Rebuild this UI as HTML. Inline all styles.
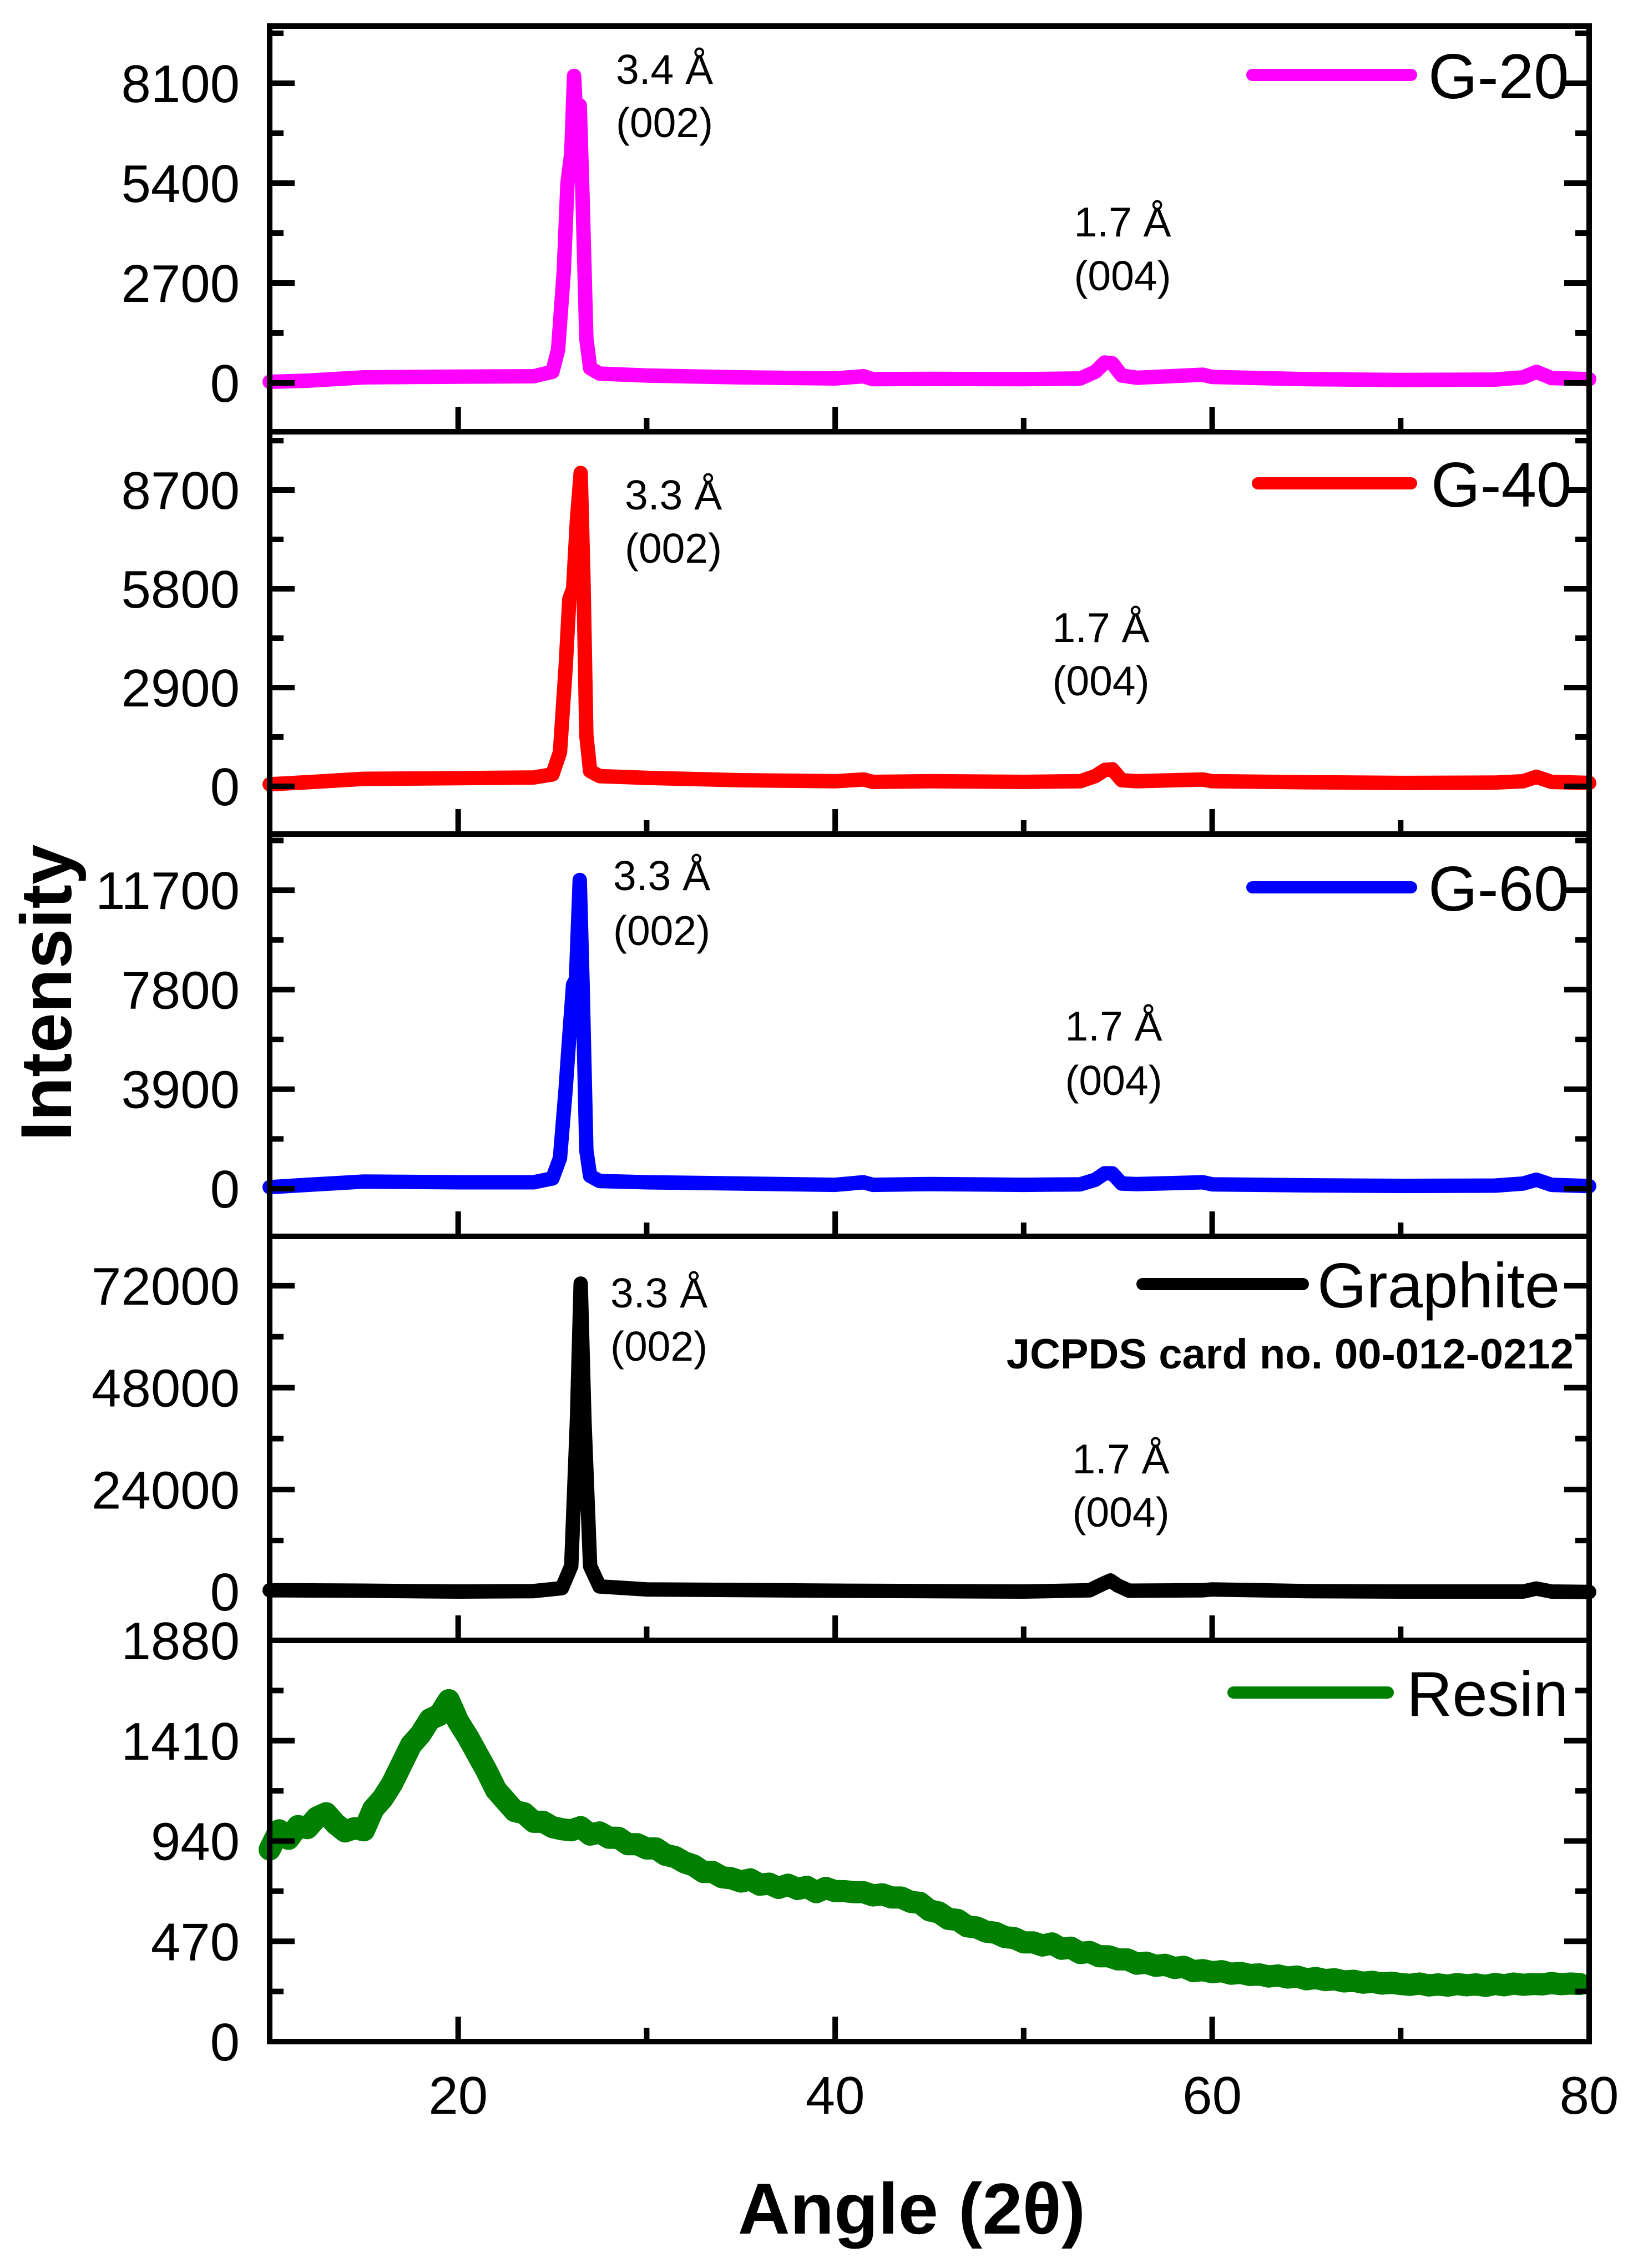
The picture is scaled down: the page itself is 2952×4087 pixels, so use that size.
<!DOCTYPE html>
<html><head><meta charset="utf-8"><style>
html,body{margin:0;padding:0;background:#fff;}
svg{display:block;font-family:"Liberation Sans",sans-serif;}
</style></head><body>
<svg id="chart" width="2952" height="4087" viewBox="0 0 2952 4087" xmlns="http://www.w3.org/2000/svg">
<g id="plots"></g>
<text x="0" y="0" transform="translate(128,1789) rotate(-90)" text-anchor="middle" font-size="130" font-weight="bold">Intensity</text>
<text x="1643" y="4025" text-anchor="middle" font-size="130" font-weight="bold">Angle (2θ)</text>
</svg>
<script>
const xTicks=[20,40,60,80];
const g20x=[10,12,15,20,24,25.0,25.3,25.6,25.8,26.0,26.15,26.3,26.45,26.6,26.8,27.0,27.5,30,35,40,41.5,42,45,50,53,53.8,54.3,54.7,55.2,56,59.5,60,65,70,75,76.5,77.2,78,80];
const g20y=[30,60,150,170,180,300,900,3000,5400,6200,8300,6800,7500,5000,1200,400,250,200,150,120,180,100,110,100,120,300,550,530,200,140,220,160,100,80,90,150,300,130,100];
const g40x=[10,12,15,20,24,25.0,25.4,25.7,25.9,26.1,26.3,26.5,26.65,26.8,27.0,27.5,30,35,40,41.5,42,45,50,53,53.8,54.3,54.7,55.2,56,59.5,60,65,70,75,76.5,77.2,78,80];
const g40y=[60,120,220,240,260,350,1000,3500,5500,5800,7800,9200,6000,1500,450,300,250,180,150,200,130,150,130,150,300,480,500,180,150,200,150,120,100,110,150,280,130,100];
const g60x=[10,12,15,20,24,25.0,25.4,25.7,25.9,26.1,26.25,26.45,26.6,26.8,27.0,27.5,30,35,40,41.5,42,45,50,53,53.8,54.3,54.7,55.2,56,59.5,60,65,70,75,76.5,77.2,78,80];
const g60y=[60,150,280,250,250,400,1200,3900,6000,8000,8200,12100,8000,1500,500,300,250,200,150,250,150,180,150,170,350,600,600,200,180,250,170,130,110,120,200,350,150,100];
const grx=[10,15,20,24,25.5,26.0,26.3,26.5,26.7,27.0,27.5,30,40,50,53.5,54.2,54.6,55.0,55.6,59.5,60,65,70,76.5,77.2,78,80];
const gry=[300,200,0,100,800,6000,40000,72500,40000,6000,1200,500,200,0,300,1800,2600,1400,200,300,500,100,0,0,700,0,-100];
const resinY=[900,990,950,1010,1000,1050,1070,1020,985,1000,990,1090,1140,1210,1300,1390,1440,1510,1530,1600,1500,1430,1350,1270,1180,1130,1080,1070,1030,1030,1005,995,990,1005,970,980,955,955,925,925,905,905,875,865,840,825,795,795,770,765,750,760,735,740,720,735,715,725,700,720,705,705,700,700,685,690,675,675,655,650,615,605,575,570,540,535,515,510,490,485,465,465,450,460,435,440,415,420,400,400,385,385,365,370,355,360,345,350,330,335,325,330,318,322,312,315,305,310,300,305,292,298,288,292,282,285,276,280,272,276,270,266,272,263,268,262,270,264,268,261,270,264,272,266,270,268,274,269,272,270];
const resinX=resinY.map((_,i)=>10+i*0.5);

const L=486,R=2864;
const panels=[
 {name:'g-20',top:47,bot:778,ymin:-1320,ymax:9645,step:2700,ticks:[0,2700,5400,8100],xs:g20x,ys:g20y,color:'#ff00ff',label:'G-20',lx1:2257,lx2:2543,ly:135,tx:2574},
 {name:'g-40',top:778,bot:1503,ymin:-1401,ymax:10411,step:2900,ticks:[0,2900,5800,8700],xs:g40x,ys:g40y,color:'#ff0000',label:'G-40',lx1:2267,lx2:2543,ly:871,tx:2579},
 {name:'g-60',top:1503,bot:2228,ymin:-1870,ymax:13899,step:3900,ticks:[0,3900,7800,11700],xs:g60x,ys:g60y,color:'#0000ff',label:'G-60',lx1:2257,lx2:2543,ly:1599,tx:2574},
 {name:'graphite',top:2228,bot:2956,ymin:-11497,ymax:83615,step:24000,ticks:[0,24000,48000,72000],xs:grx,ys:gry,color:'#000000',label:'Graphite',lx1:2059,lx2:2348,ly:2314,tx:2374},
 {name:'resin',top:2956,bot:3679,ymin:0,ymax:1880,step:470,ticks:[0,470,940,1410,1880],xs:resinX,ys:resinY,color:'#008000',label:'Resin',lx1:2223,lx2:2501,ly:3050,tx:2535}
];
const annots=[
 [1110,125,221,'3.4 Å',2023,400,497],
 [1126,892,988,'3.3 Å',1984,1131,1227],
 [1105,1578,1677,'3.3 Å',2007,1849,1947],
 [1100,2330,2426,'3.3 Å',2020,2629,2725]
];
const NS='http://www.w3.org/2000/svg';
const root=document.getElementById('plots');
function mk(tag,attrs,parent){const e=document.createElementNS(NS,tag);for(const k in attrs)e.setAttribute(k,attrs[k]);(parent||root).appendChild(e);return e;}
const xs=v=>L+(v-10)/70*(R-L);
panels.forEach((p,pi)=>{
  const g=mk('g',{});
  
  
  const ys=v=>p.bot-(v-p.ymin)/(p.ymax-p.ymin)*(p.bot-p.top);
  let d='';
  p.xs.forEach((x,i)=>{d+=(i?'L':'M')+xs(x).toFixed(1)+','+ys(p.ys[i]).toFixed(1);});
  const path=mk('path',{d:d,fill:'none',stroke:p.color,'stroke-width':pi==4?40:26,'stroke-linejoin':'round','stroke-linecap':'round'},g);
  
  
  const half=p.step/2;
  for(let k=Math.ceil(p.ymin/half);k*half<=p.ymax;k++){
    const v=k*half,y=ys(v),major=(k%2===0);
    if(y<p.top+6||y>p.bot-6)continue;
    const len=major?45:25;
    const t1=mk('line',{x1:L,x2:L+len,y1:y,y2:y,stroke:'#000','stroke-width':10},g);
    
    
    const t2=mk('line',{x1:R-len,x2:R,y1:y,y2:y,stroke:'#000','stroke-width':10},g);
    
    
  }
  p.ticks.forEach(v=>{
    let y=ys(v)+34;
    const t=mk('text',{x:432,y:y,'text-anchor':'end','font-size':96},g);
    t.textContent=String(v);
    
    
  });
  for(let v=20;v<80;v+=10){
    const major=(v%20===0),len=major?45:25;
    const t=mk('line',{x1:xs(v),x2:xs(v),y1:p.bot-len,y2:p.bot,stroke:'#000','stroke-width':10},g);
    
    
  }
  const fr=mk('rect',{x:L,y:p.top,width:R-L,height:p.bot-p.top,fill:'none',stroke:'#000','stroke-width':10},g);
  
  
  const lg=mk('g',{},g);
  
  
  mk('line',{x1:p.lx1,x2:p.lx2,y1:p.ly,y2:p.ly,stroke:p.color,'stroke-width':22,'stroke-linecap':'round'},lg);
  const lt=mk('text',{x:p.tx,y:p.ly+42,'font-size':114},lg);
  lt.textContent=p.label;
});
annots.forEach((a,i)=>{
  const g=mk('g',{});
  
  
  const t1=mk('text',{x:a[0],y:a[1]+26,'font-size':75},g);t1.textContent=a[3];
  const t2=mk('text',{x:a[0],y:a[2]+26,'font-size':75},g);t2.textContent='(002)';
  const t3=mk('text',{x:a[4],y:a[5]+26,'font-size':75,'text-anchor':'middle'},g);t3.textContent='1.7 Å';
  const t4=mk('text',{x:a[4],y:a[6]+26,'font-size':75,'text-anchor':'middle'},g);t4.textContent='(004)';
});
const jc=mk('text',{x:2836,y:2466,'font-size':76,'font-weight':'bold','text-anchor':'end'});
jc.textContent='JCPDS card no. 00-012-0212';


xTicks.forEach(v=>{
  const t=mk('text',{x:xs(v),y:3809,'font-size':96,'text-anchor':'middle'});
  t.textContent=String(v);
  
  
});
</script>
</body></html>
